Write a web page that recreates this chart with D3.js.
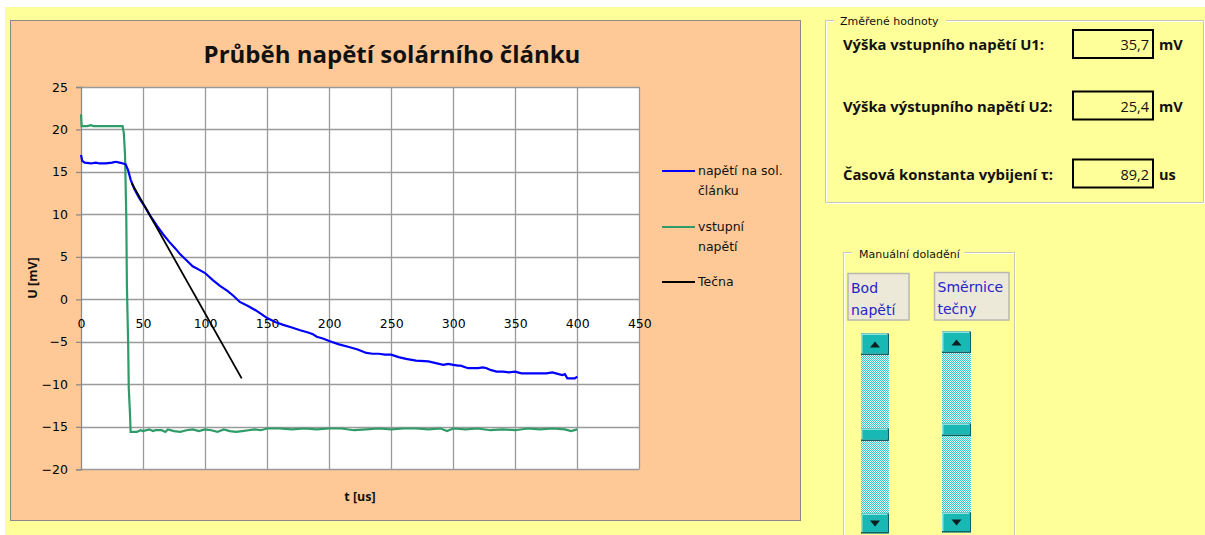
<!DOCTYPE html>
<html><head><meta charset="utf-8">
<script src="https://cdn.jsdelivr.net/npm/d3@7"></script>
<style>body{margin:0;background:#fff;} svg{display:block;}</style>
</head><body>
<svg id="c" width="1205" height="535"></svg>
<script>
// ---------- DATA ----------
const title = "Průběh napětí solárního článku";
const xLabel = "t [us]";
const yLabel = "U [mV]";
const xTicks = [0,50,100,150,200,250,300,350,400,450];
const yTicks = [25,20,15,10,5,0,-5,-10,-15,-20];
const seriesNames = ["napětí na sol. článku", "vstupní napětí", "Tečna"];
const blueT = [0,1,3,8,12,15,20,25,28,31,34,36,38,40,43,47,52,56,61,66,71,76,80,85,90,95,100,106,112,118,123,128,135,141,146,150,157,163,170,176,183,187,190,195,200,208,216,223,230,235,240,245,250,256,262,270,280,286,292,296,300,304,306,312,320,324,327,330,335,340,345,350,355,365,375,380,385,388,390,392,398,400];
const blueV = [17.0,16.3,16.1,16.0,16.1,16.0,16.0,16.1,16.2,16.1,16.0,15.9,15.2,14.1,13.0,11.9,10.8,9.8,8.7,7.7,6.8,6.0,5.3,4.6,3.9,3.5,3.1,2.3,1.6,1.0,0.4,-0.3,-0.8,-1.3,-1.8,-2.2,-2.7,-3.0,-3.3,-3.6,-3.9,-4.1,-4.4,-4.6,-4.9,-5.3,-5.6,-5.9,-6.3,-6.4,-6.4,-6.5,-6.5,-6.8,-7.0,-7.2,-7.3,-7.5,-7.7,-7.6,-7.7,-7.8,-7.8,-8.1,-8.1,-8.0,-8.1,-8.3,-8.5,-8.5,-8.6,-8.5,-8.7,-8.7,-8.7,-8.6,-8.8,-8.9,-8.8,-9.3,-9.3,-9.1];
const greenT = [0,0.5,5,8,10,20,30,33.5,34.5,35.5,36.5,37,38,38.5,39.5,40,45,48,50,55,58,60,65,68,70,75,80,85,90,95,100,105,110,115,120,125,130,135,140,145,150,160,170,180,190,200,210,220,230,240,250,260,270,280,290,295,300,310,320,330,340,350,360,370,380,390,395,400];
const greenV = [21.8,20.4,20.4,20.5,20.4,20.4,20.4,20.4,19.6,17.0,9.7,1.6,-5.1,-10.4,-13.5,-15.6,-15.6,-15.4,-15.5,-15.3,-15.5,-15.4,-15.4,-15.6,-15.3,-15.5,-15.6,-15.4,-15.3,-15.5,-15.3,-15.4,-15.6,-15.3,-15.5,-15.6,-15.5,-15.4,-15.3,-15.4,-15.2,-15.2,-15.3,-15.2,-15.3,-15.2,-15.2,-15.4,-15.3,-15.2,-15.3,-15.2,-15.2,-15.3,-15.2,-15.5,-15.2,-15.3,-15.2,-15.4,-15.3,-15.4,-15.2,-15.3,-15.2,-15.3,-15.5,-15.3];
const tangentT = [40.8,129.5];
const tangentV = [13.7,-9.3];
const panelTitle = "Změřené hodnoty";
const panelLabels = ["Výška vstupního napětí U1:", "Výška výstupního napětí U2:", "Časová konstanta vybijení τ:"];
const panelValues = ["35,7", "25,4", "89,2"];
const panelUnits = ["mV", "mV", "us"];
const manualTitle = "Manuální doladění";
const buttonLabels = [["Bod","napětí"],["Směrnice","tečny"]];

// ---------- DRAW ----------
const svg = d3.select("#c");
svg.append("rect").attr("x",5).attr("y",7).attr("width",1200).attr("height",528).attr("fill","#FFFF99");
svg.append("rect").attr("x",10.5).attr("y",20.5).attr("width",790).attr("height",500)
  .attr("fill","#FFC997").attr("stroke","#8a8a8a").attr("stroke-width",1);

const x = d3.scaleLinear().domain([0,450]).range([81,639.3]);
const y = d3.scaleLinear().domain([-20,25]).range([469.3,87]);

svg.append("rect").attr("x",x(0)).attr("y",y(25)).attr("width",x(450)-x(0)).attr("height",y(-20)-y(25)).attr("fill","#fff");

const grid = svg.append("g");
grid.selectAll("line.v").data(xTicks.filter(d=>d>0)).join("line")
  .attr("x1",d=>Math.round(x(d))+0.5).attr("x2",d=>Math.round(x(d))+0.5)
  .attr("y1",y(25)).attr("y2",y(-20)).attr("stroke","#9a9a9a").attr("stroke-width",1.3);
grid.selectAll("line.h").data(yTicks).join("line")
  .attr("x1",x(0)).attr("x2",x(450))
  .attr("y1",d=>Math.round(y(d))+0.5).attr("y2",d=>Math.round(y(d))+0.5).attr("stroke","#9a9a9a").attr("stroke-width",1.3);

const font = "'DejaVu Sans', sans-serif";
const yAxis = svg.append("g").attr("transform",`translate(${x(0)},0)`)
  .call(d3.axisLeft(y).tickValues(yTicks).tickSize(5).tickPadding(8).tickFormat(d3.format("d")));
yAxis.select(".domain").attr("stroke","#8a8a8a").attr("stroke-width",1.3);
yAxis.selectAll(".tick line").attr("stroke","#8a8a8a").attr("stroke-width",1.3);
yAxis.selectAll("text").attr("font-family",font).attr("font-size",12.5).attr("fill","#000");

const xAxis = svg.append("g").attr("transform",`translate(0,${y(0)})`)
  .call(d3.axisBottom(x).tickValues(xTicks).tickSize(0).tickPadding(20).tickFormat(d3.format("d")));
xAxis.select(".domain").remove();
xAxis.selectAll("text").attr("font-family",font).attr("font-size",12.5).attr("fill","#000");

const lineGen = d3.line().x(d=>x(d[0])).y(d=>y(d[1]));
const blue = blueT.map((t,i)=>[t,blueV[i]]);
const green = greenT.map((t,i)=>[t,greenV[i]]);
const tang = tangentT.map((t,i)=>[t,tangentV[i]]);
svg.append("path").datum(green).attr("d",lineGen).attr("fill","none").attr("stroke","#2E9B68").attr("stroke-width",2.2);
svg.append("path").datum(blue).attr("d",lineGen).attr("fill","none").attr("stroke","#0000FF").attr("stroke-width",2.2);
svg.append("path").datum(tang).attr("d",lineGen).attr("fill","none").attr("stroke","#000").attr("stroke-width",1.8);

svg.append("text").attr("x",392).attr("y",63).attr("text-anchor","middle")
  .attr("font-family","'Open Sans', sans-serif").attr("font-weight","bold").attr("font-size",24).attr("fill","#111").text(title);
svg.append("text").attr("x",360).attr("y",501).attr("text-anchor","middle")
  .attr("font-family","'Open Sans', sans-serif").attr("font-weight","bold").attr("font-size",12.5).attr("fill","#111").text(xLabel);
svg.append("text").attr("transform","translate(37,278) rotate(-90)").attr("text-anchor","middle")
  .attr("font-family","'Open Sans', sans-serif").attr("font-weight","bold").attr("font-size",12.5).attr("fill","#111").text(yLabel);

// legend
const legColors = ["#0000FF","#2E9B68","#000"];
const legY = [171, 227, 282];
const legLines = [["napětí na sol.","článku"],["vstupní","napětí"],["Tečna"]];
legLines.forEach((ls,i)=>{
  svg.append("line").attr("x1",662).attr("x2",695).attr("y1",legY[i]).attr("y2",legY[i])
    .attr("stroke",legColors[i]).attr("stroke-width",2.2);
  ls.forEach((s,j)=>{
    svg.append("text").attr("x",698).attr("y",legY[i]+4+j*20).attr("font-family",font)
      .attr("font-size",12.5).attr("fill","#111").text(s);
  });
});

// ---------- right panel ----------
svg.append("path").attr("d","M834,21.5 H826.5 V203.5 H1204.5 V21.5 H946").attr("fill","none").attr("stroke","#fff");
svg.append("path").attr("d","M834,20.5 H825.5 V202.5 H1203.5 V20.5 H946").attr("fill","none").attr("stroke","#C8C8B8");
svg.append("text").attr("x",840).attr("y",25).attr("font-family","'DejaVu Sans', sans-serif")
  .attr("font-size",11).attr("fill","#111").text(panelTitle);

const rowY = [45, 106.5, 174.5];
panelLabels.forEach((l,i)=>{
  svg.append("text").attr("x",843).attr("y",rowY[i]+5).attr("font-family","'Open Sans', sans-serif")
    .attr("font-weight","bold").attr("font-size",14.8).attr("fill","#111").text(l);
  svg.append("rect").attr("x",1073).attr("y",rowY[i]-15).attr("width",80).attr("height",28)
    .attr("fill","none").attr("stroke","#000").attr("stroke-width",2);
  svg.append("text").attr("x",1149).attr("y",rowY[i]+5).attr("text-anchor","end").attr("font-family","'Open Sans', sans-serif")
    .attr("font-size",14.5).attr("fill","#111").text(panelValues[i]);
  svg.append("text").attr("x",1159).attr("y",rowY[i]+5).attr("font-family","'Open Sans', sans-serif")
    .attr("font-weight","bold").attr("font-size",14.5).attr("fill","#111").text(panelUnits[i]);
});

// manual group
svg.append("path").attr("d","M844.5,540 V253.5 H852 M964,253.5 H1015.5 V540").attr("fill","none").attr("stroke","#fff");
svg.append("path").attr("d","M843.5,540 V252.5 H852 M964,252.5 H1014.5 V540").attr("fill","none").attr("stroke","#C8C8B8");
svg.append("text").attr("x",859).attr("y",257.5).attr("font-family","'DejaVu Sans', sans-serif")
  .attr("font-size",11).attr("fill","#111").text(manualTitle);

const btns = [{x:848,y:273.5,w:61,h:46.5},{x:934.5,y:272.5,w:74.5,h:47.5}];
btns.forEach((b,i)=>{
  svg.append("rect").attr("x",b.x).attr("y",b.y).attr("width",b.w).attr("height",b.h)
    .attr("fill","#ECE9D8").attr("stroke","#B8B8B0").attr("stroke-width",1.5);
  buttonLabels[i].forEach((s,j)=>{
    svg.append("text").attr("x",b.x+3).attr("y",b.y+19+j*22).attr("font-family","'DejaVu Sans', sans-serif")
      .attr("font-size",14).attr("fill","#2424C8").text(s);
  });
});

// scrollbars
const defs = svg.append("defs");
const pat = defs.append("pattern").attr("id","dith").attr("width",2).attr("height",2).attr("patternUnits","userSpaceOnUse");
pat.append("rect").attr("width",2).attr("height",2).attr("fill","#E0FAFA");
pat.append("rect").attr("x",0).attr("y",0).attr("width",1).attr("height",1).attr("fill","#38C8C8");
pat.append("rect").attr("x",1).attr("y",1).attr("width",1).attr("height",1).attr("fill","#38C8C8");

function bevelBox(x0,y0,w,h){
  const g = svg.append("g");
  g.append("rect").attr("x",x0).attr("y",y0).attr("width",w).attr("height",h).attr("fill","#0F6060");
  g.append("rect").attr("x",x0).attr("y",y0).attr("width",w-1.5).attr("height",h-1.5).attr("fill","#8AE4E0");
  g.append("rect").attr("x",x0+1.5).attr("y",y0+1.5).attr("width",w-3).attr("height",h-3).attr("fill","#18B8B4");
  return g;
}
const sbs = [{x:861,y:333.5,w:28,h:200,thumb:428.5},{x:942,y:331.5,w:29,h:201,thumb:423.5}];
sbs.forEach(s=>{
  svg.append("rect").attr("x",s.x).attr("y",s.y).attr("width",s.w).attr("height",s.h).attr("fill","url(#dith)");
  bevelBox(s.x,s.y,s.w,21.5);
  svg.append("path").attr("d",`M${s.x+s.w/2-5},${s.y+14} L${s.x+s.w/2+5},${s.y+14} L${s.x+s.w/2},${s.y+8} Z`).attr("fill","#0a2020");
  bevelBox(s.x,s.y+s.h-20,s.w,20);
  const cy = s.y+s.h-10;
  svg.append("path").attr("d",`M${s.x+s.w/2-5},${cy-3} L${s.x+s.w/2+5},${cy-3} L${s.x+s.w/2},${cy+3} Z`).attr("fill","#0a2020");
  bevelBox(s.x,s.thumb,s.w,12.5);
});
</script>
</body></html>
